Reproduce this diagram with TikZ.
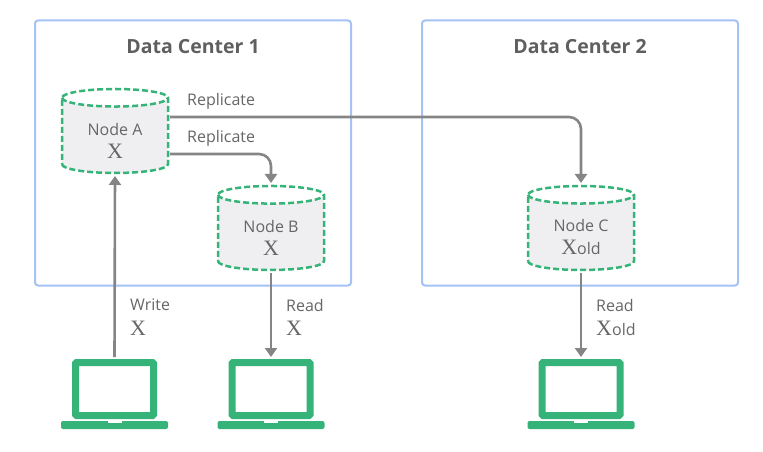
\documentclass[tikz,border=0pt]{standalone}
\usepackage{fontspec}
\setmainfont{Open Sans}
\newfontfamily\serifx{Liberation Serif}
\usetikzlibrary{arrows.meta,shapes.geometric}
\definecolor{boxblue}{HTML}{A4C2F4}
\definecolor{nodegreen}{HTML}{35B378}
\definecolor{nodegrey}{HTML}{EFEFF1}
\definecolor{linkgrey}{HTML}{858585}
\definecolor{textgrey}{HTML}{666666}
\definecolor{titlegrey}{HTML}{5F5F5F}
\newcommand{\valx}{{\serifx\fontsize{22}{22}\selectfont X}}
\newcommand{\dblabel}[2]{\rule{0pt}{21pt}#1\\[5pt]#2}
\begin{document}
\begin{tikzpicture}[x=1pt,y=-1pt,
    every node/.style={text=textgrey,font=\fontsize{16}{18}\selectfont},
    center box/.style={draw=boxblue,line width=2pt,rounded corners=3pt,minimum width=316pt,minimum height=265pt,inner sep=0pt},
    title/.style={text=titlegrey,font=\fontsize{19.5}{22}\selectfont\bfseries},
    db node/.style={cylinder,shape border rotate=90,aspect=0.32,draw=nodegreen,dashed,dash pattern=on 6pt off 3pt,line width=2.5pt,
        cylinder uses custom fill,cylinder body fill=nodegrey,cylinder end fill=white,
        minimum width=106pt,minimum height=84pt,inner sep=0pt,outer sep=0pt,align=center},
    link/.style={draw=linkgrey,line width=2.6pt,-{Triangle[width=12pt,length=9pt]}},
    link label/.style={anchor=west,inner sep=0pt,align=left},
    laptop screen/.style={draw=nodegreen,line width=7pt,rounded corners=1pt,minimum width=78pt,minimum height=53pt,inner sep=0pt,outer sep=3.5pt},
    laptop base/.style={fill=nodegreen,rounded corners=2pt,minimum width=107pt,minimum height=8pt,inner sep=0pt},
    laptop notch/.style={fill=white,minimum width=14pt,minimum height=2pt,inner sep=0pt}]
    \useasboundingbox (0,0) rectangle (763,452);

    \node[center box] at (193,153) (dc1) {};
    \node[center box] at (580,153) (dc2) {};
    \node[title] at (193,47) (dc1 title) {Data Center 1};
    \node[title] at (580,47) (dc2 title) {Data Center 2};

    \node[db node] at (115,136) (a) {\dblabel{Node A}{\valx}};
    \node[db node] at (271,233) (b) {\dblabel{Node B}{\valx}};
    \node[db node] at (581,233) (c) {\dblabel{Node C}{\valx old}};

    \foreach \name/\x in {w/114.5,rb/271,rc/581}{
        \node[laptop screen] at (\x,389) (\name) {};
        \node[laptop base] at (\x,425) (\name base) {};
        \node[laptop notch] at (\x,422) (\name notch) {};
    }

    \draw[link,rounded corners=12pt,shorten <=2pt,shorten >=3pt] ([yshift=19pt]a.east) -| (c.north);
    \draw[link,rounded corners=12pt,shorten <=2pt,shorten >=3pt] ([yshift=-18pt]a.east) -| (b.north);
    \draw[link,shorten <=2pt,shorten >=3pt] (w.north) -- (a.south);
    \draw[link,shorten <=3pt,shorten >=2pt] (b.south) -- (rb.north);
    \draw[link,shorten <=3pt,shorten >=2pt] (c.south) -- (rc.north);

    \node[link label] at (187,101) (rep c) {Replicate};
    \node[link label] at (187,138) (rep b) {Replicate};
    \node[link label] at (130,305) (write) {Write};
    \node[link label] at (130,328) (write x) {\valx};
    \node[link label] at (286,305) (read b) {Read};
    \node[link label] at (286,328) (read bx) {\valx};
    \node[link label] at (596,305) (read c) {Read};
    \node[link label] at (596,328) (read cx) {\valx old};
\end{tikzpicture}
\end{document}
